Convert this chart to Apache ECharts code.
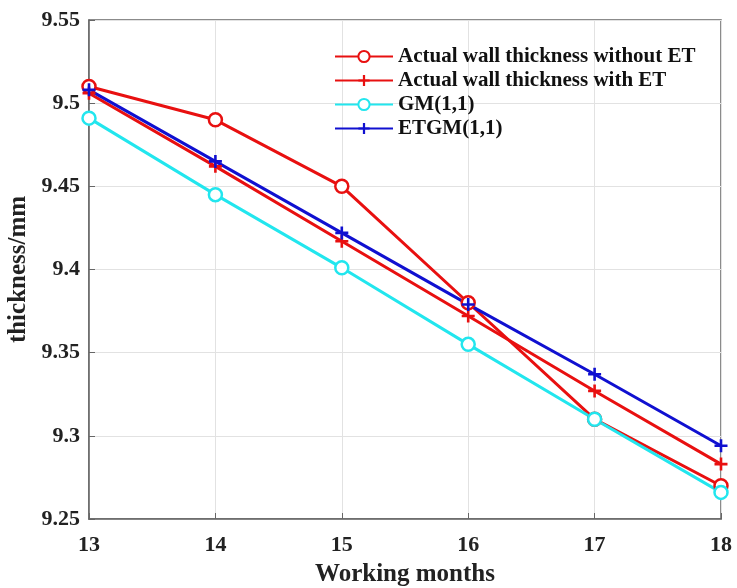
<!DOCTYPE html>
<html><head><meta charset="utf-8">
<script src="https://cdn.jsdelivr.net/npm/echarts@6/dist/echarts.min.js"></script>
<style>html,body{margin:0;padding:0;background:#fff}#c{width:737px;height:588px}</style>
</head><body><div id="c"></div>
<script>
var months = [13, 14, 15, 16, 17, 18];
var withoutET = [9.51, 9.49, 9.45, 9.38, 9.31, 9.27];
var withET = [9.506, 9.462, 9.417, 9.372, 9.327, 9.283];
var gm = [9.491, 9.445, 9.401, 9.355, 9.31, 9.266];
var etgm = [9.508, 9.465, 9.422, 9.379, 9.337, 9.294];
var names = ['Actual wall thickness without ET', 'Actual wall thickness with ET', 'GM(1,1)', 'ETGM(1,1)'];

function pairs(arr){ return months.map(function(m,i){ return [m, arr[i]]; }); }
var plus = 'path://M4,0h2v4h4v2h-4v4h-2v-4h-4v-2h4z';
var font = '"Liberation Serif","Times New Roman",serif';
function ser(name, data, color, sym){
  var circle = sym === 'circle';
  return {
    name: name, type: 'line', data: pairs(data),
    symbol: sym, symbolSize: 13,
    lineStyle: {color: color, width: 3},
    itemStyle: circle ? {color: '#fff', opacity: 1, borderColor: color, borderWidth: 2.5} : {color: color, borderWidth: 0},
    emphasis: {disabled: true}, z: 3
  };
}
var chart = echarts.init(document.getElementById('c'));
chart.setOption({
  animation: false,
  grid: {left: 89, right: 16, top: 20, bottom: 69, outerBoundsMode: 'none', containLabel: false,
    show: true, borderColor: '#666', borderWidth: 1.5, backgroundColor: 'transparent'},
  legend: {
    left: 329, top: 41, orient: 'vertical', itemGap: 3, itemWidth: 58, itemHeight: 14,
    textStyle: {fontFamily: font, fontWeight: 'bold', fontSize: 21, color: '#111'},
    data: names
  },
  xAxis: {
    type: 'value', min: 13, max: 18, interval: 1,
    name: 'Working months', nameLocation: 'middle', nameGap: 43,
    nameTextStyle: {fontFamily: font, fontWeight: 'bold', fontSize: 25, color: '#222'},
    axisLine: {show: true, lineStyle: {color: '#666', width: 1.5}},
    axisTick: {inside: true, length: 6, lineStyle: {color: '#666'}},
    axisLabel: {fontFamily: font, fontWeight: 'bold', fontSize: 22, color: '#222', margin: 15},
    splitLine: {show: true, lineStyle: {color: '#e2e2e2', width: 1}}
  },
  yAxis: {
    type: 'value', min: 9.25, max: 9.55, interval: 0.05,
    name: 'thickness/mm', nameLocation: 'middle', nameGap: 55,
    nameTextStyle: {fontFamily: font, fontWeight: 'bold', fontSize: 25, color: '#222'},
    axisLine: {show: true, lineStyle: {color: '#666', width: 1.5}},
    axisTick: {show: true, inside: true, length: 6, lineStyle: {color: '#666'}},
    axisLabel: {fontFamily: font, fontWeight: 'bold', fontSize: 22, color: '#222', margin: 9,
      formatter: function(v){ return String(parseFloat(v.toFixed(2))); }},
    splitLine: {show: true, lineStyle: {color: '#e2e2e2', width: 1}}
  },
  series: [
    ser(names[0], withoutET, '#e81010', 'circle'),
    ser(names[1], withET, '#e81010', plus),
    ser(names[2], gm, '#22e6ee', 'circle'),
    ser(names[3], etgm, '#1010d0', plus)
  ]
});
</script></body></html>
